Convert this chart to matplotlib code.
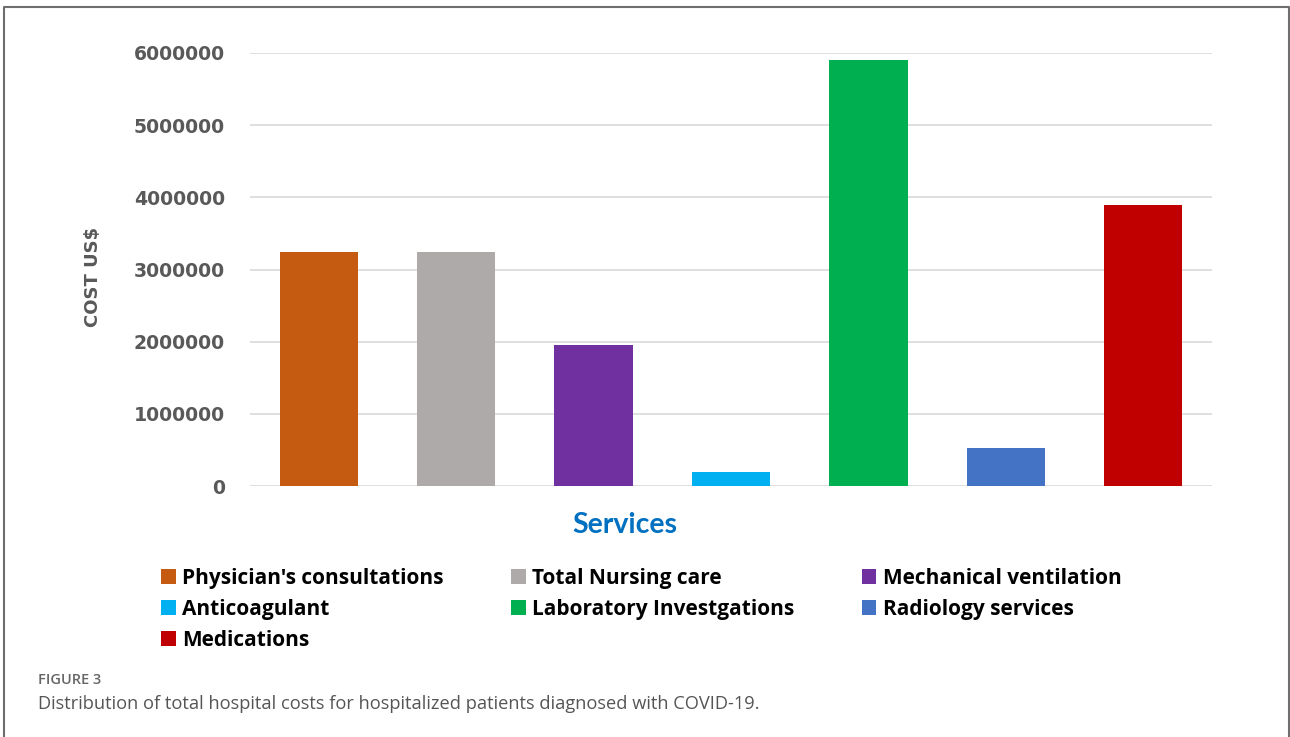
import matplotlib.pyplot as plt
from matplotlib.patches import Patch
from matplotlib.lines import Line2D


services = ["Physician's consultations", "Total Nursing care", "Mechanical ventilation",
            "Anticoagulant", "Laboratory Investgations", "Radiology services", "Medications"]
costs = [3240000, 3240000, 1950000, 190000, 5900000, 530000, 3890000]
colors = ["#C55A11", "#AEAAAA", "#7030A0", "#00B0F0", "#00B050", "#4472C4", "#C00000"]
yticks = [0, 1000000, 2000000, 3000000, 4000000, 5000000, 6000000]


def plot_costs():
    fig = plt.figure(figsize=(12.9, 7.37), dpi=100)
    ax = fig.add_axes([250 / 1290, 1 - 486 / 737, 962 / 1290, 433 / 737])

    x = range(len(services))
    ax.bar(x, costs, width=0.57, color=colors, zorder=3)
    ax.set_xlim(-0.5, len(services) - 0.5)
    ax.set_ylim(0, 6000000)
    ax.set_yticks(yticks)
    ax.set_yticklabels([str(v) for v in yticks], fontsize=13.6, fontweight="bold",
                       color="#595959", family="DejaVu Sans")
    ax.set_xticks([])
    ax.tick_params(axis="y", length=0, pad=18)
    ax.grid(axis="y", color="#D9D9D9", linewidth=1.2, zorder=0)
    for s in ax.spines.values():
        s.set_visible(False)

    fig.text(93 / 1290, 1 - 277 / 737, "COST US$", rotation=90, ha="center", va="center",
             fontsize=13, fontweight="bold", color="#595959", family="DejaVu Sans")

    fig.text(625 / 1290, 1 - 525 / 737, "Services", ha="center", va="center",
             fontsize=20.5, fontweight="bold", color="#0070C0", family="Lato")

    # legend below the chart, filled row by row
    order = [0, 3, 6, 1, 4, 2, 5]
    handles = [Patch(facecolor=colors[i], edgecolor="none") for i in order]
    labels = [services[i] for i in order]
    fig.legend(handles, labels, ncols=3, loc="upper left",
               bbox_to_anchor=(161 / 1290, 1 - 568 / 737),
               frameon=False, handlelength=0.7, handleheight=0.7,
               handletextpad=0.3, columnspacing=3.25, labelspacing=0.47,
               prop={"family": "Open Sans", "weight": "bold", "size": 15},
               borderaxespad=0, borderpad=0)

    # caption
    fig.text(38 / 1290, 1 - 680 / 737, "FIGURE 3", ha="left", va="center",
             fontsize=10.5, fontweight="semibold", color="#666666", family="Open Sans")
    fig.text(38 / 1290, 1 - 704 / 737,
             "Distribution of total hospital costs for hospitalized patients diagnosed with COVID-19.",
             ha="left", va="center", fontsize=13.15, color="#555555", family="Open Sans")

    # frame around the panel (left, top, right)
    l, r, t = 4 / 1290, 1289 / 1290, 1 - 7 / 737
    fig.add_artist(Line2D([l, l, r, r], [0, t, t, 0], transform=fig.transFigure,
                          color="#6E6E6E", linewidth=1.5))
    return fig


if __name__ == "__main__":
    fig = plot_costs()
    fig.savefig("out.png", dpi=100)
